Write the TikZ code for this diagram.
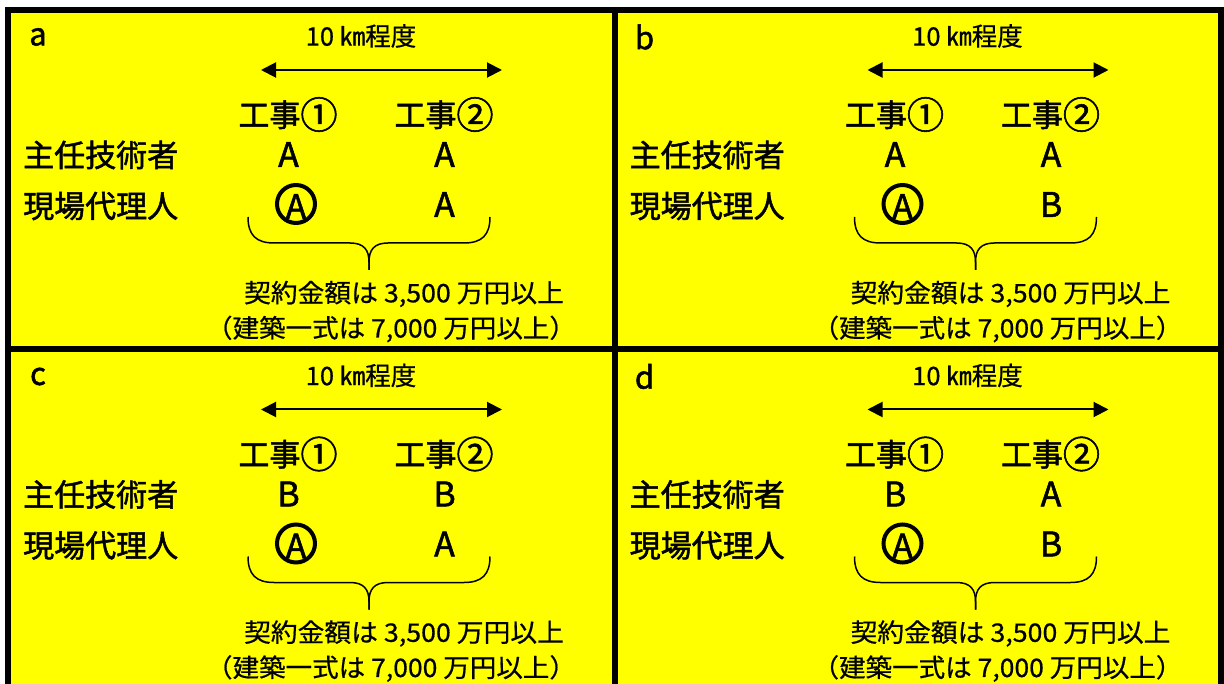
\documentclass[tikz,border=0pt]{standalone}
\usepackage{fontspec}
\setmainfont{Noto Sans CJK JP}[RawFeature={embolden=0.6}]
\newfontfamily\heavyjp{Noto Sans CJK JP}[RawFeature={embolden=1.6}]
\usetikzlibrary{arrows.meta}
\definecolor{panelyellow}{HTML}{FFFF00}
\tikzset{
  bigtext/.style={font=\heavyjp\fontsize{31}{34}\selectfont, inner sep=0pt},
  smalltext/.style={font=\fontsize{25.5}{28}\selectfont, inner sep=0pt},
  lettertext/.style={font=\heavyjp\fontsize{34}{36}\selectfont, inner sep=0pt},
  ring/.style={line width=4pt},
  dimarrow/.style={line width=2pt, {Triangle[length=15pt,width=15pt]}-{Triangle[length=15pt,width=15pt]}},
  bracestyle/.style={line width=1.5pt},
  frameline/.style={line width=6pt}
}
\newcommand{\mycircnum}[1]{\raisebox{-0.07em}{\scalebox{1.2}{#1}}}
\newcommand{\drawpanel}[7]{%
\begin{scope}[shift={(#2,#3)}]
\node[bigtext] (#1-label) at (38,37) {#4};
\node[smalltext] (#1-dist) at (361,36) {10 ㎞程度};
\coordinate (#1-al) at (261,70);
\coordinate (#1-ar) at (502,70);
\draw[dimarrow] (#1-al) -- (#1-ar);
\node[bigtext] (#1-k1) at (288,114.5) {工事\mycircnum{①}};
\node[bigtext] (#1-k2) at (444,114.5) {工事\mycircnum{②}};
\node[bigtext, anchor=west] (#1-role1) at (23,155) {主任技術者};
\node[bigtext, anchor=west] (#1-role2) at (23,206) {現場代理人};
\node[lettertext] (#1-r1c1) at (288.5,154.5) {#5};
\node[lettertext] (#1-r1c2) at (444.5,154.5) {#6};
\node[lettertext] (#1-r2c1) at (296,206.5) {A};
\draw[ring] (#1-r2c1) ++(0,-2.5) circle[radius=19];
\node[lettertext] (#1-r2c2) at (444.5,204.5) {#7};
\coordinate (#1-bl) at (248,217);
\coordinate (#1-br) at (490,217);
\coordinate (#1-bt) at (369,270);
\draw[bracestyle] (#1-bl) .. controls (248,235) and (256,243) .. (274,243) -- (350,243) .. controls (364,243) and (369,250) .. (369,262) -- (#1-bt);
\draw[bracestyle] (#1-br) .. controls (490,235) and (482,243) .. (464,243) -- (388,243) .. controls (374,243) and (369,250) .. (369,262) -- (#1-bt);
\node[smalltext] (#1-amt) at (404,294) {\scalebox{1.05}[1]{契約金額は 3,500 万円以上}};
\node[smalltext] (#1-amt2) at (391,329) {\scalebox{1.04}[1]{（建築一式は 7,000 万円以上）}};
\end{scope}}

\begin{document}
\begin{tikzpicture}[x=1pt, y=-1pt]
\useasboundingbox (0,0) rectangle (1224,684);
\clip (0,0) rectangle (1224,684);
\fill[white] (0,0) rectangle (1224,684);
\fill[panelyellow] (8,10) rectangle (1230,700);
\draw[frameline] (8,700) -- (8,10) -- (1220.5,10) -- (1220.5,700);
\draw[frameline] (614.5,10) -- (614.5,700);
\draw[frameline] (8,349.5) -- (1220.5,349.5);
\drawpanel{pa}{0}{0}{a}{A}{A}{A}
\drawpanel{pb}{606.5}{0}{b}{A}{A}{B}
\drawpanel{pc}{0}{339.5}{c}{B}{B}{A}
\drawpanel{pd}{606.5}{339.5}{d}{B}{A}{B}
\end{tikzpicture}
\end{document}
